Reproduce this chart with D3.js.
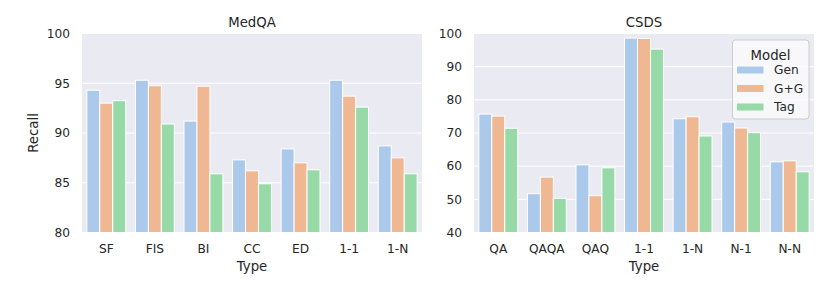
<!DOCTYPE html>
<html>
<head>
<meta charset="utf-8">
<script src="https://cdn.jsdelivr.net/npm/d3@7"></script>
<style>
  body { margin: 0; background: #fff; }
  text { font-family: "DejaVu Sans", sans-serif; fill: #262626; }
</style>
</head>
<body>
<div id="chart"></div>
<script>
// Recall per type, seaborn-style grouped bars (two panels)

var models = ["Gen", "G+G", "Tag"];
var colors = ["#abc9ea", "#efb792", "#98daa7"];

var medqaTypes = ["SF", "FIS", "BI", "CC", "ED", "1-1", "1-N"];
var medqaGen = [94.3, 95.3, 91.2, 87.3, 88.4, 95.3, 88.7];
var medqaGG = [93.0, 94.75, 94.7, 86.2, 87.0, 93.7, 87.5];
var medqaTag = [93.25, 90.9, 85.9, 84.9, 86.3, 92.6, 85.9];
var medqaTicks = [80, 85, 90, 95, 100];

var csdsTypes = ["QA", "QAQA", "QAQ", "1-1", "1-N", "N-1", "N-N"];
var csdsGen = [75.7, 51.7, 60.4, 98.6, 74.3, 73.3, 61.3];
var csdsGG = [75.1, 56.7, 51.1, 98.5, 74.9, 71.5, 61.6];
var csdsTag = [71.4, 50.3, 59.5, 95.3, 69.1, 70.1, 58.3];
var csdsTicks = [40, 50, 60, 70, 80, 90, 100];

var width = 830, height = 291;

var svg = d3.select("#chart").append("svg")
  .attr("width", width)
  .attr("height", height);

function panel(opts) {
  var g = svg.append("g");
  var x = d3.scaleBand().domain(opts.types).range([opts.x0, opts.x1]).paddingInner(0).paddingOuter(0);
  var y = d3.scaleLinear().domain(opts.domain).range([232.5, 33.5]);
  var xs = d3.scaleBand().domain(models).range([0, x.bandwidth() * 0.8]);

  g.append("rect")
    .attr("x", opts.x0).attr("y", 33.5)
    .attr("width", opts.x1 - opts.x0).attr("height", 199)
    .attr("fill", "#eaeaf2");

  // grid
  g.selectAll(".grid").data(opts.ticks).enter().append("line")
    .attr("x1", opts.x0).attr("x2", opts.x1)
    .attr("y1", function (d) { return y(d); })
    .attr("y2", function (d) { return y(d); })
    .attr("stroke", "#fff").attr("stroke-width", 1);

  var rows = [];
  opts.types.forEach(function (t, i) {
    opts.series.forEach(function (s, j) {
      rows.push({ type: t, model: models[j], value: s[i], c: colors[j] });
    });
  });

  g.selectAll(".bar").data(rows).enter().append("rect")
    .attr("x", function (d) { return x(d.type) + x.bandwidth() * 0.1 + xs(d.model); })
    .attr("y", function (d) { return y(d.value); })
    .attr("width", xs.bandwidth())
    .attr("height", function (d) { return y(opts.domain[0]) - y(d.value); })
    .attr("fill", function (d) { return d.c; })
    .attr("stroke", "#fff").attr("stroke-width", 1);

  // y tick labels
  g.selectAll(".ytl").data(opts.ticks).enter().append("text")
    .attr("x", opts.x0 - 12)
    .attr("y", function (d) { return y(d); })
    .attr("dy", "0.35em")
    .attr("text-anchor", "end")
    .attr("font-size", 12.2)
    .text(function (d) { return d; });

  // x tick labels
  g.selectAll(".xtl").data(opts.types).enter().append("text")
    .attr("x", function (d) { return x(d) + x.bandwidth() / 2; })
    .attr("y", 253)
    .attr("text-anchor", "middle")
    .attr("font-size", 12.2)
    .text(function (d) { return d; });

  g.append("text")
    .attr("x", (opts.x0 + opts.x1) / 2).attr("y", 271)
    .attr("text-anchor", "middle").attr("font-size", 13.3)
    .text("Type");

  g.append("text")
    .attr("x", (opts.x0 + opts.x1) / 2).attr("y", 27)
    .attr("text-anchor", "middle").attr("font-size", 13.3)
    .text(opts.title);
}

panel({ title: "MedQA", types: medqaTypes, series: [medqaGen, medqaGG, medqaTag],
  domain: [80, 100], ticks: medqaTicks, x0: 82, x1: 422 });
panel({ title: "CSDS", types: csdsTypes, series: [csdsGen, csdsGG, csdsTag],
  domain: [40, 100], ticks: csdsTicks, x0: 474, x1: 814 });

svg.append("text")
  .attr("transform", "translate(38,133) rotate(-90)")
  .attr("text-anchor", "middle").attr("font-size", 13.3)
  .text("Recall");

// legend
var leg = svg.append("g");
leg.append("rect")
  .attr("x", 732.5).attr("y", 40).attr("width", 76.5).attr("height", 79)
  .attr("rx", 3).attr("fill", "#fbfbfd").attr("fill-opacity", 0.8)
  .attr("stroke", "#cccccc").attr("stroke-width", 1);
leg.append("text")
  .attr("x", 770.5).attr("y", 60).attr("text-anchor", "middle").attr("font-size", 13.3)
  .text("Model");
var ly = d3.scalePoint().domain(models).range([70, 107]);
leg.selectAll(".lp").data(models).enter().append("rect")
  .attr("x", 737).attr("y", function (d) { return ly(d) - 3.5; })
  .attr("width", 26.5).attr("height", 7)
  .attr("fill", function (d, i) { return colors[i]; });
leg.selectAll(".lt").data(models).enter().append("text")
  .attr("x", 774).attr("y", function (d) { return ly(d); })
  .attr("dy", "0.35em").attr("font-size", 12.2)
  .text(function (d) { return d; });
</script>
</body>
</html>
